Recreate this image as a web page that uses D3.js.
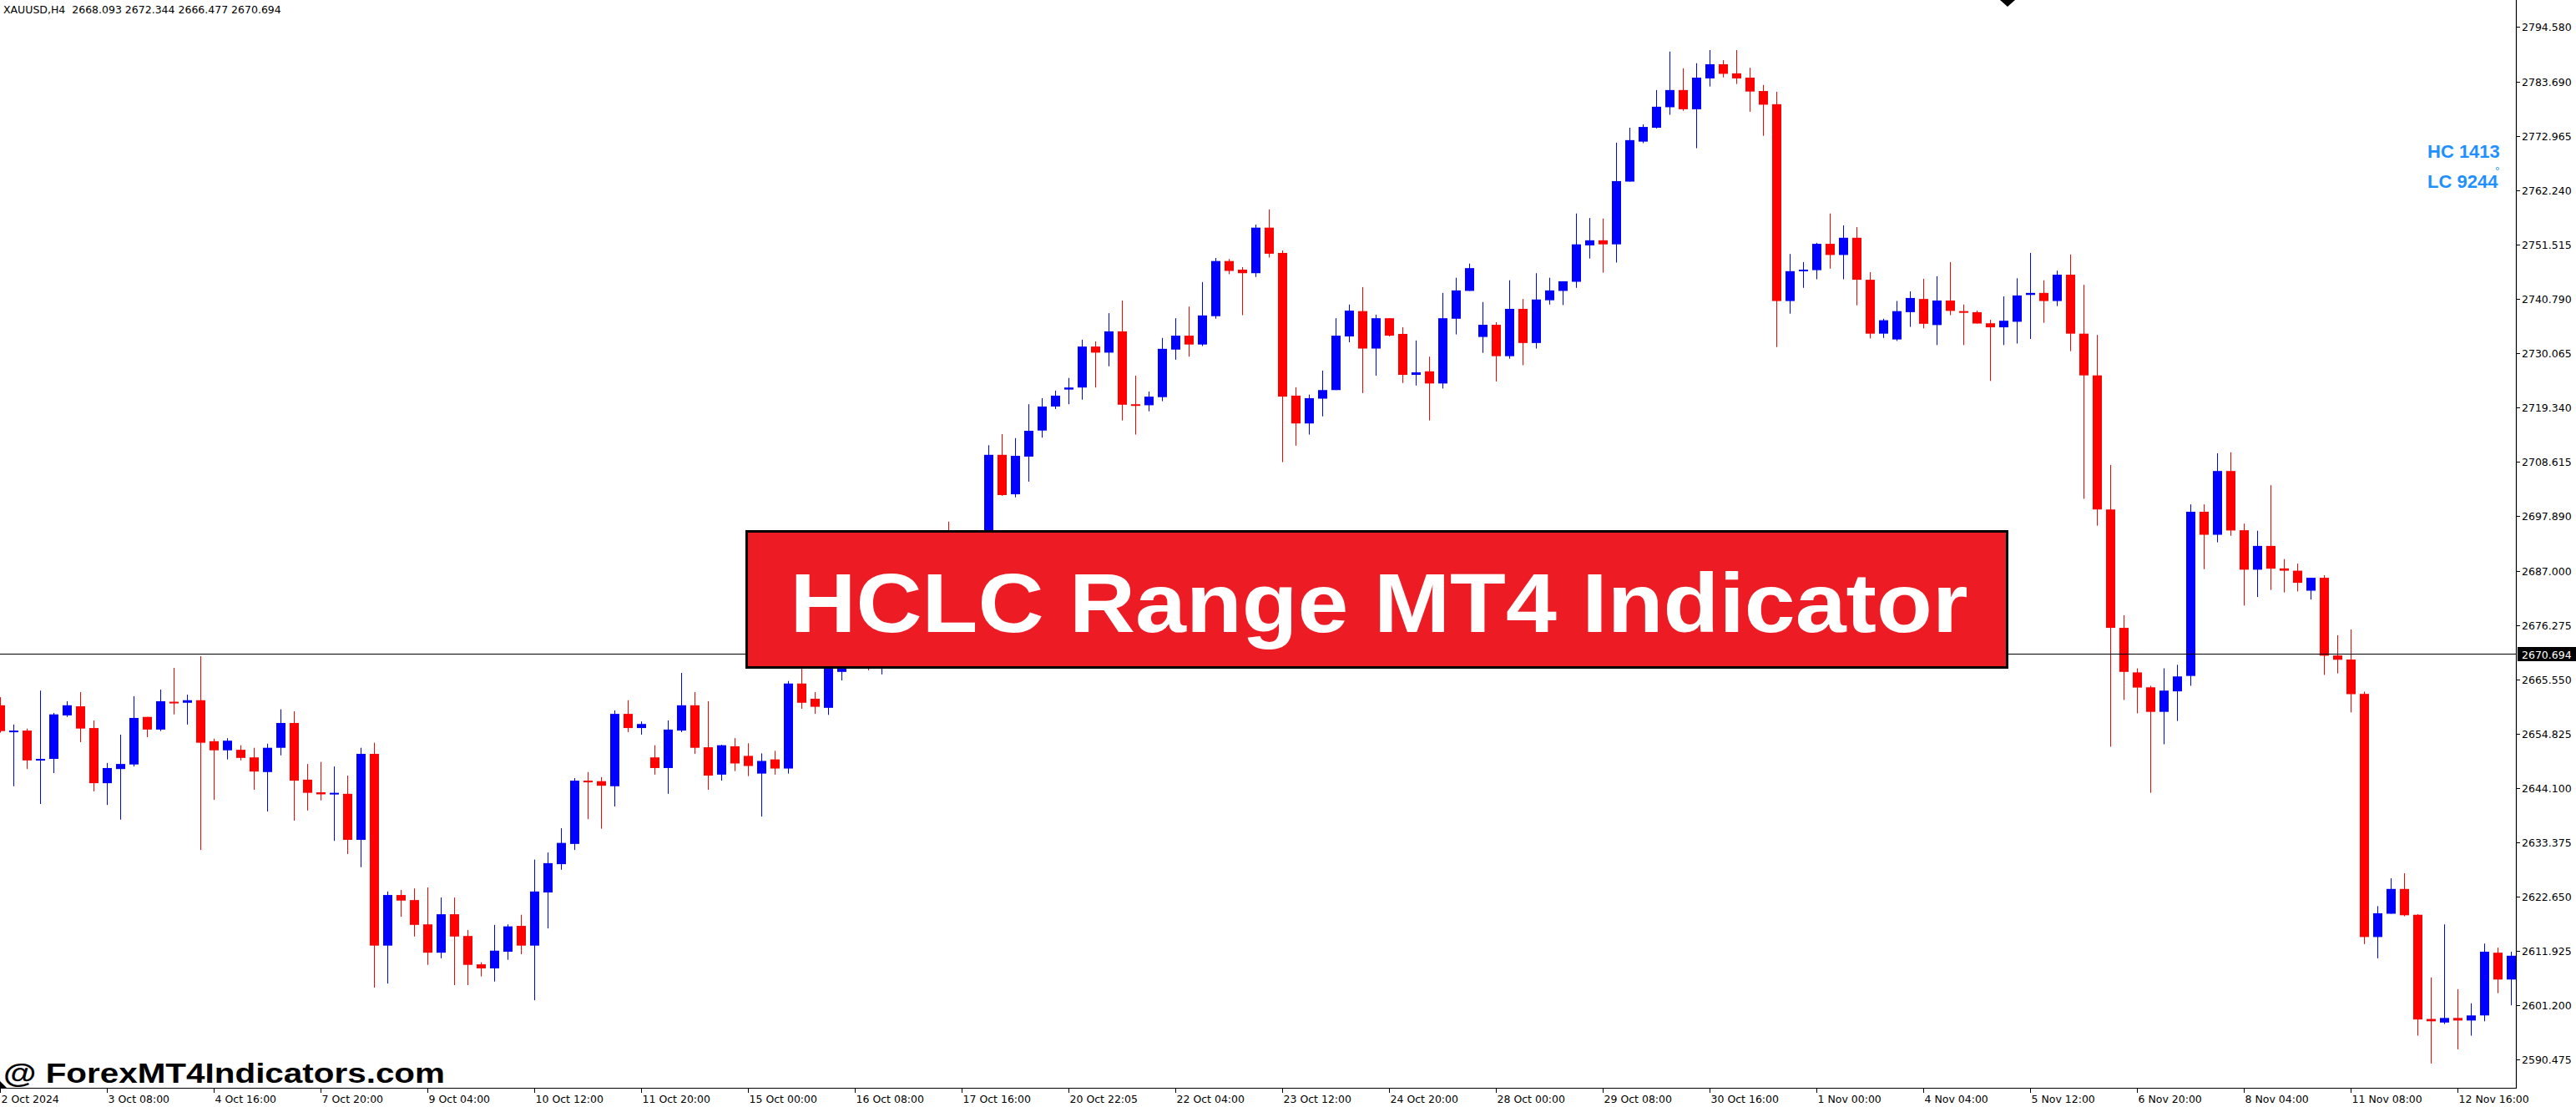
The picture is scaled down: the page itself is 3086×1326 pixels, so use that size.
<!DOCTYPE html>
<html><head><meta charset="utf-8">
<script src="https://cdn.jsdelivr.net/npm/d3@7"></script>
<style>html,body{margin:0;padding:0;background:#fff;overflow:hidden}</style>
</head><body>
<svg id="chart" width="3086" height="1326"></svg>
<script>
const opens=[2660.5,2655.2,2655.5,2649.6,2649.9,2658.5,2660.3,2656.0,2645.1,2647.9,2648.8,2658.2,2655.7,2661.2,2661.0,2661.5,2653.4,2651.6,2651.7,2650.2,2647.3,2652.1,2657.0,2645.8,2643.3,2643.0,2643.0,2633.9,2650.9,2613.0,2623.0,2622.0,2617.2,2611.6,2619.2,2614.9,2609.3,2608.5,2611.8,2616.9,2613.0,2623.5,2629.1,2633.1,2645.6,2645.5,2644.5,2658.8,2656.0,2650.2,2648.1,2655.5,2660.5,2652.2,2646.8,2652.4,2650.5,2647.0,2649.8,2648.0,2664.8,2661.8,2660.0,2667.1,2672.5,2676.0,2673.5,2679.0,2682.0,2680.0,2684.5,2688.5,2687.0,2690.5,2689.0,2710.0,2702.2,2709.65,2714.8,2719.55,2722.9,2723.3,2731.4,2730.2,2734.4,2720.0,2719.8,2721.4,2730.8,2733.55,2731.8,2737.4,2748.3,2746.6,2745.9,2754.9,2749.9,2721.7,2716.2,2721.1,2722.8,2733.4,2738.4,2731.0,2737.0,2733.9,2725.8,2726.5,2724.1,2736.9,2742.4,2733.3,2735.7,2729.5,2738.85,2732.1,2740.55,2742.4,2744.2,2751.4,2752.4,2751.6,2764.0,2771.9,2774.65,2778.7,2782.1,2778.3,2784.4,2787.2,2785.4,2784.55,2781.9,2779.3,2740.4,2746.3,2746.5,2751.7,2749.5,2752.9,2744.6,2733.95,2732.8,2738.2,2740.8,2735.65,2740.5,2738.4,2738.2,2736.0,2735.2,2736.3,2741.6,2742.0,2740.4,2745.6,2733.95,2725.7,2699.2,2675.8,2667.0,2664.05,2659.2,2663.25,2666.3,2698.75,2694.2,2706.8,2695.1,2687.3,2692.0,2687.55,2687.1,2683.15,2685.7,2670.35,2669.55,2662.75,2614.7,2619.3,2624.2,2619.1,2598.5,2597.8,2598.7,2598.2,2599.2,2611.6,2606.3];
const highs=[2662.1,2656.7,2655.9,2663.4,2659.0,2661.3,2663.1,2657.5,2649.1,2654.7,2662.3,2658.2,2663.6,2667.9,2662.6,2670.2,2653.9,2654.0,2652.6,2652.1,2652.9,2659.7,2659.3,2648.9,2649.3,2648.4,2646.6,2652.1,2653.1,2623.7,2624.0,2624.3,2624.5,2622.5,2622.5,2616.1,2609.7,2617.1,2617.2,2619.1,2630.0,2631.4,2636.2,2646.1,2647.3,2646.3,2659.5,2661.5,2657.3,2652.6,2657.5,2666.9,2663.1,2661.3,2652.7,2654.0,2653.0,2651.0,2651.5,2665.3,2669.0,2663.1,2671.0,2674.0,2678.0,2679.0,2681.0,2684.0,2685.0,2686.5,2690.5,2696.8,2692.5,2693.0,2711.9,2714.1,2713.3,2720.0,2721.2,2722.7,2725.2,2732.75,2732.4,2738.0,2740.5,2725.65,2722.5,2733.1,2737.0,2739.3,2744.15,2748.9,2748.7,2747.1,2755.5,2758.5,2750.4,2723.35,2721.9,2726.65,2737.0,2739.7,2743.15,2737.7,2737.0,2735.2,2732.6,2729.4,2742.0,2745.0,2747.8,2740.2,2736.2,2744.5,2740.8,2745.9,2745.0,2744.3,2757.7,2756.8,2756.7,2771.7,2774.65,2775.3,2782.1,2789.7,2786.4,2787.4,2790.0,2788.0,2790.0,2786.5,2783.1,2781.75,2749.7,2748.1,2751.9,2757.7,2755.35,2755.0,2746.1,2736.9,2740.4,2742.3,2744.8,2745.3,2748.1,2739.7,2738.5,2736.7,2741.3,2744.9,2749.9,2744.5,2746.4,2749.6,2743.6,2733.7,2708.0,2678.3,2667.8,2664.35,2667.8,2668.5,2700.2,2700.2,2710.3,2710.5,2696.4,2695.0,2704.0,2689.4,2688.5,2685.7,2686.2,2674.35,2675.5,2663.2,2620.8,2626.3,2627.3,2619.2,2606.7,2617.2,2604.4,2601.6,2613.4,2612.6,2611.8];
const lows=[2655.1,2644.5,2647.9,2641.0,2647.1,2658.2,2653.2,2643.5,2640.8,2637.9,2648.4,2654.2,2655.4,2658.7,2656.7,2631.9,2641.8,2649.8,2649.6,2643.8,2639.5,2650.6,2637.7,2639.7,2641.7,2633.7,2631.1,2628.5,2604.7,2605.5,2618.7,2614.8,2609.2,2610.5,2605.2,2605.2,2606.9,2605.9,2610.2,2611.3,2602.2,2616.4,2628.0,2631.9,2638.0,2636.1,2640.5,2655.2,2654.7,2646.8,2643.0,2655.2,2650.9,2643.8,2645.6,2647.5,2646.5,2638.5,2646.8,2647.0,2659.8,2658.8,2658.6,2665.4,2670.5,2667.4,2666.6,2677.5,2678.5,2679.0,2683.0,2685.5,2685.5,2687.0,2688.0,2701.9,2701.6,2704.7,2713.4,2719.05,2720.0,2720.9,2723.3,2727.5,2716.8,2714.0,2718.6,2720.6,2728.8,2729.4,2731.5,2736.9,2745.7,2737.6,2745.15,2749.0,2708.55,2711.8,2714.0,2717.6,2722.8,2732.25,2722.2,2725.65,2733.4,2724.2,2723.7,2716.8,2723.1,2733.8,2742.4,2730.15,2724.5,2729.0,2727.7,2731.0,2739.7,2739.6,2743.0,2748.8,2746.0,2748.0,2764.0,2771.6,2774.5,2777.2,2778.0,2770.6,2782.8,2784.6,2783.3,2777.8,2773.05,2731.3,2737.9,2743.0,2744.7,2746.8,2744.7,2739.55,2733.0,2733.1,2732.5,2735.3,2735.0,2731.7,2737.6,2731.7,2735.95,2724.6,2731.7,2732.0,2732.9,2736.1,2739.4,2730.5,2701.3,2696.0,2652.3,2661.55,2658.9,2643.2,2652.8,2657.4,2664.35,2687.4,2692.7,2694.0,2680.2,2681.9,2683.3,2682.8,2683.0,2681.4,2666.5,2666.8,2659.1,2613.3,2610.5,2619.3,2618.8,2595.2,2589.7,2597.5,2592.5,2595.2,2598.05,2603.6,2601.2];
const closes=[2655.4,2655.5,2649.6,2649.9,2658.7,2660.5,2655.9,2645.1,2648.1,2648.9,2658.0,2655.7,2661.3,2661.0,2661.5,2653.1,2651.6,2653.5,2650.1,2647.4,2652.1,2657.0,2645.6,2643.2,2642.9,2643.2,2633.9,2650.9,2613.0,2623.0,2621.9,2617.1,2611.6,2619.2,2614.8,2609.2,2608.5,2612.0,2616.8,2613.0,2623.7,2629.3,2633.3,2645.6,2645.3,2644.6,2658.8,2656.0,2656.8,2648.1,2655.7,2660.5,2652.1,2646.6,2652.6,2649.0,2648.5,2649.5,2648.0,2664.8,2661.0,2660.2,2669.5,2672.5,2676.0,2673.5,2679.0,2682.0,2680.0,2684.5,2688.5,2687.0,2690.5,2689.0,2710.0,2702.05,2709.8,2714.75,2719.55,2721.7,2723.3,2731.4,2730.2,2734.4,2719.9,2719.8,2721.5,2730.95,2733.55,2731.8,2737.55,2748.3,2746.35,2745.9,2754.9,2749.75,2721.5,2716.2,2721.2,2722.8,2733.55,2738.5,2731.0,2737.0,2733.55,2725.8,2726.3,2724.1,2737.0,2742.5,2746.9,2735.7,2729.5,2738.85,2732.1,2740.7,2742.5,2744.3,2751.6,2752.4,2751.6,2764.1,2772.2,2774.8,2778.8,2782.1,2778.3,2784.55,2787.2,2785.3,2784.4,2781.8,2779.2,2740.4,2746.3,2746.6,2751.7,2749.5,2752.9,2744.6,2733.95,2736.6,2738.4,2741.0,2735.9,2740.5,2738.45,2738.1,2735.95,2735.2,2736.5,2741.5,2742.0,2740.4,2745.6,2733.95,2725.7,2699.2,2675.8,2667.1,2664.0,2659.2,2663.4,2666.2,2698.75,2694.2,2706.8,2695.05,2687.3,2692.0,2687.5,2687.1,2684.7,2685.7,2670.3,2669.5,2662.7,2614.7,2619.4,2624.2,2619.0,2598.4,2598.05,2598.7,2598.2,2599.2,2611.8,2606.3,2611.0];
const timeLabels=["2 Oct 2024","3 Oct 08:00","4 Oct 16:00","7 Oct 20:00","9 Oct 04:00","10 Oct 12:00","11 Oct 20:00","15 Oct 00:00","16 Oct 08:00","17 Oct 16:00","20 Oct 22:05","22 Oct 04:00","23 Oct 12:00","24 Oct 20:00","28 Oct 00:00","29 Oct 08:00","30 Oct 16:00","1 Nov 00:00","4 Nov 04:00","5 Nov 12:00","6 Nov 20:00","8 Nov 04:00","11 Nov 08:00","12 Nov 16:00"];
const priceTicks=[2794.580,2783.690,2772.965,2762.240,2751.515,2740.790,2730.065,2719.340,2708.615,2697.890,2687.000,2676.275,2665.550,2654.825,2644.100,2633.375,2622.650,2611.925,2601.200,2590.475];
const headerText="XAUUSD,H4  2668.093 2672.344 2666.477 2670.694";
const lastPrice=2670.694;
const indicatorLines=["HC 1413","LC 9244"];
const bannerTitle="HCLC Range MT4 Indicator";
const watermark="@ ForexMT4Indicators.com";
const barsPerLabel=8;

const W=3086,H=1326, axisX=3014, axisY=1304;
const svg=d3.select("#chart");
svg.append("rect").attr("width",W).attr("height",H).attr("fill","#fff");

const x=d3.scaleLinear().domain([0,opens.length-1]).range([0,(opens.length-1)*16]);
const y=d3.scaleLinear().domain([2590.475,2794.58]).range([1269.2,32.2]);

svg.append("defs").append("clipPath").attr("id","plot").append("rect")
  .attr("x",0).attr("y",0).attr("width",axisX).attr("height",axisY);
const plot=svg.append("g").attr("clip-path","url(#plot)");

const bars=opens.map((o,i)=>({i,o,h:highs[i],l:lows[i],c:closes[i]}));
const col=d=>d.c>=d.o?"#0000ff":"#ff0000";
const g=plot.selectAll("g.bar").data(bars).join("g").attr("class","bar");
g.append("rect")
  .attr("x",d=>x(d.i))
  .attr("width",1)
  .attr("y",d=>y(d.h))
  .attr("height",d=>Math.max(1,y(d.l)-y(d.h)))
  .attr("fill",col);
g.append("rect")
  .attr("x",d=>x(d.i)-5)
  .attr("width",11)
  .attr("y",d=>Math.min(y(d.o),y(d.c)))
  .attr("height",d=>Math.max(2,Math.abs(y(d.o)-y(d.c))))
  .attr("fill",col);

// current price line
const py=Math.round(y(lastPrice))+0.5;
plot.append("line").attr("x1",0).attr("x2",axisX).attr("y1",py).attr("y2",py)
  .attr("stroke","#000").attr("stroke-width",1);

// axes lines
svg.append("line").attr("x1",axisX+0.5).attr("x2",axisX+0.5).attr("y1",0).attr("y2",axisY)
  .attr("stroke","#000").attr("stroke-width",1.2);
svg.append("line").attr("x1",0).attr("x2",axisX+1).attr("y1",axisY-0.5).attr("y2",axisY-0.5)
  .attr("stroke","#000").attr("stroke-width",1.2);

const font='"DejaVu Sans", Verdana, sans-serif';
// price axis
const pt=svg.append("g");
priceTicks.forEach(v=>{
  const yy=Math.round(y(v))+0.5;
  pt.append("line").attr("x1",axisX+1).attr("x2",axisX+5).attr("y1",yy).attr("y2",yy).attr("stroke","#000");
  pt.append("text").attr("x",axisX+7).attr("y",yy+4.5).attr("font-family",font).attr("font-size",12.5)
    .attr("fill","#000").text(d3.format(".3f")(v));
});
// current price box
svg.append("rect").attr("x",axisX+2).attr("y",py-8.5).attr("width",W-axisX-2).attr("height",17).attr("fill","#000");
svg.append("text").attr("x",axisX+7).attr("y",py+5).attr("font-family",font).attr("font-size",12.5)
  .attr("fill","#fff").text(d3.format(".3f")(lastPrice));

// time axis
const tt=svg.append("g");
timeLabels.forEach((lab,k)=>{
  const xx=x(k*barsPerLabel)+0.5;
  tt.append("line").attr("x1",xx).attr("x2",xx).attr("y1",axisY).attr("y2",axisY+5).attr("stroke","#000");
  tt.append("text").attr("x",xx+1).attr("y",1321).attr("font-family",font).attr("font-size",12.5)
    .attr("fill","#000").text(lab);
});

// header
svg.append("text").attr("x",4).attr("y",15.5).attr("font-family",font).attr("font-size",12.5)
  .style("white-space","pre").attr("xml:space","preserve").attr("fill","#000").text(headerText);

// indicator labels
indicatorLines.forEach((t,k)=>{
  svg.append("text").attr("x",2908).attr("y",189+k*36).attr("font-family",'"Liberation Sans", Arial, sans-serif')
    .attr("font-weight","bold").attr("font-size",22).attr("fill","#1e90ff").text(t);
});
svg.append("circle").attr("cx",2992).attr("cy",202).attr("r",1.6).attr("fill","none").attr("stroke","#1e90ff").attr("stroke-width",0.8);

// small black markers
svg.append("polygon").attr("points","2396,0 2414,0 2405,8").attr("fill","#000");
svg.append("polygon").attr("points","0,1295 0,1304 9,1304").attr("fill","#000");

// banner
svg.append("rect").attr("x",894.5).attr("y",636.5).attr("width",1510).attr("height",163)
  .attr("fill","#ed1c24").attr("stroke","#000").attr("stroke-width",3);
svg.append("text").attr("x",946.5).attr("y",757).attr("font-family",'"Liberation Sans", Arial, sans-serif')
  .attr("font-weight","bold").attr("font-size",100).attr("fill","#fff")
  .attr("textLength",1411).attr("lengthAdjust","spacingAndGlyphs").text(bannerTitle);

// watermark
svg.append("text").attr("x",4).attr("y",1297).attr("font-family",'"Liberation Sans", Arial, sans-serif')
  .attr("font-weight","bold").attr("font-size",34).attr("fill","#000")
  .attr("textLength",529).attr("lengthAdjust","spacingAndGlyphs").text(watermark);
</script>
</body></html>
